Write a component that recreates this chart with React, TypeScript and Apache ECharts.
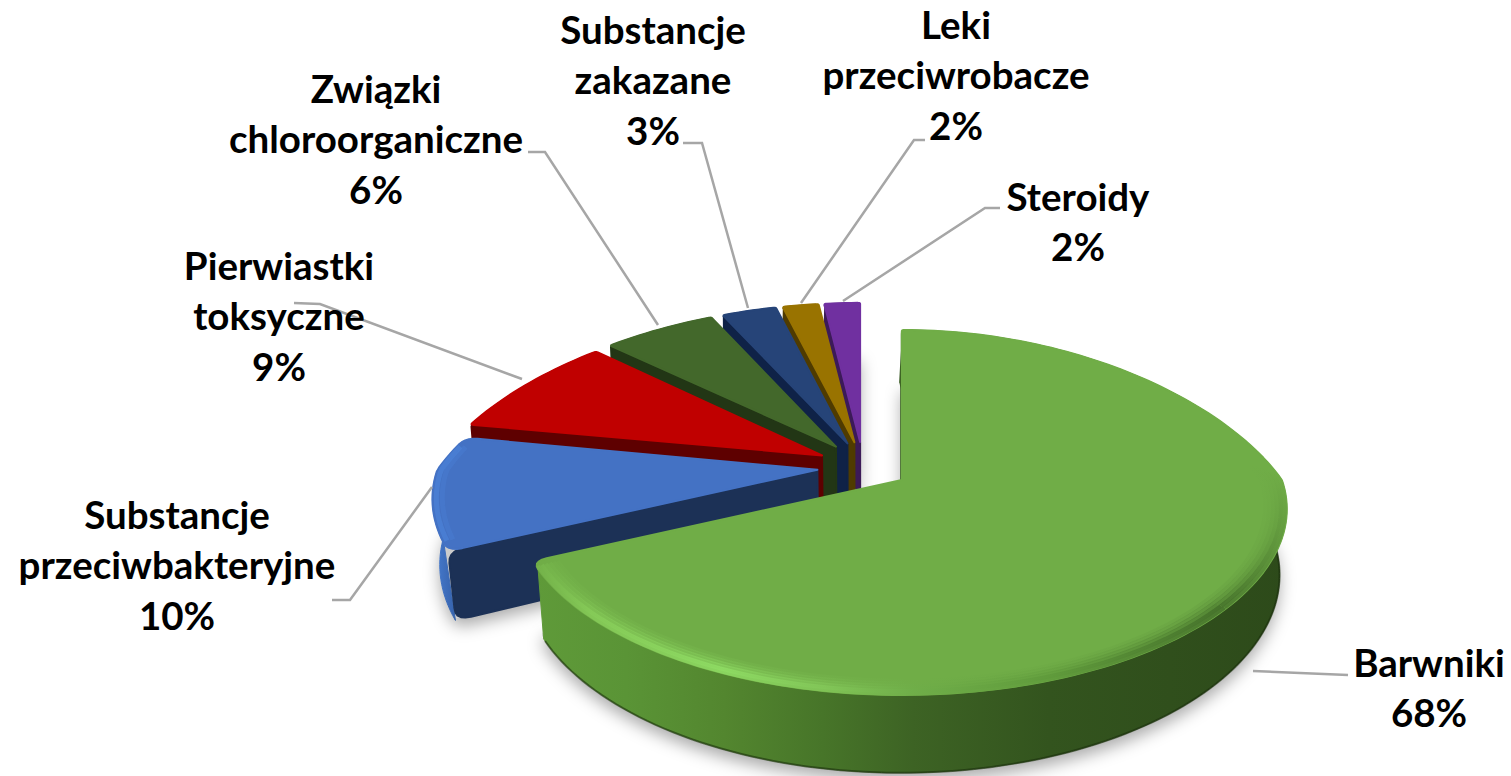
import React, { useEffect, useRef } from "react";
import * as echarts from "echarts";

const categories = ["Barwniki", "Substancje\nprzeciwbakteryjne", "Pierwiastki\ntoksyczne", "Związki\nchloroorganiczne", "Substancje\nzakazane", "Leki\nprzeciwrobacze", "Steroidy"];
const values = [68, 10, 9, 6, 3, 2, 2];
const topColors = ["#70ad47", "#4472c4", "#c00000", "#43682b", "#264478", "#997300", "#7030a0"];
const wallColors = ["#35561f", "#1c3156", "#5e0000", "#223615", "#0f2247", "#4f3b00", "#3c1a58"];

const W = 1511, H = 776;
const CX = 863, CY = 466.7, EX = 46, EY = 24.8;
const A = 380, B = 176.7, KY = 0.178, KXB = 0.33, KXF = 0.16, DEPTH = 64, SHRINK = 0.983, BACK = 0.52;
const rad = (d: number) => (d * Math.PI) / 180;

type Slice = { start: number; end: number; ax: number; ay: number; e: number; d: number; rr: number; ds: number; rs: number };
function sliceInfo(i: number): Slice {
  const total = values.reduce((s, v) => s + v, 0);
  let before = 0;
  for (let k = 0; k < i; k++) before += values[k];
  const start = (before / total) * 360;
  const end = ((before + values[i]) / total) * 360;
  const mid = (start + end) / 2;
  const c = Math.cos(rad(mid));
  const big = i < 2;
  return {
    start, end, ax: CX + EX * Math.sin(rad(mid)), ay: CY - EY * c, e: Math.max(0, c) * BACK,
    d: big ? 2.4 : 0.5, rr: big ? 0.965 : 0.99,
    ds: i === 1 ? 2.4 : 0.5, rs: i === 1 ? 0.965 : 0.99,
  };
}
function proj(s: Slice, r: number, deg: number, bottom = false): number[] {
  const X = r * Math.sin(rad(deg)), Y = r * Math.cos(rad(deg));
  const sx = 1 / (1 + (Y > 0 ? KXB : KXF) * Y);
  const sy = 1 / (1 + KY * (Y + (r > 0 ? s.e * r : 0)));
  let x = s.ax + A * X * sx;
  let y = s.ay - B * Y * sy;
  if (bottom) { x = CX + (x - CX) * SHRINK; y += DEPTH * sy; }
  return [x, y];
}
function arc(s: Slice, r: number, a0: number, a1: number, bottom = false) {
  const pts: number[][] = [];
  const n = Math.max(2, Math.ceil(Math.abs(a1 - a0) / 1.5));
  for (let j = 0; j <= n; j++) pts.push(proj(s, r, a0 + ((a1 - a0) * j) / n, bottom));
  return pts;
}
function quad(p0: number[], c: number[], p1: number[]) {
  const out: number[][] = [];
  for (let t = 0; t <= 1.001; t += 0.2) {
    const u = 1 - t;
    out.push([u * u * p0[0] + 2 * u * t * c[0] + t * t * p1[0], u * u * p0[1] + 2 * u * t * c[1] + t * t * p1[1]]);
  }
  return out;
}
function outline(s: Slice, bottom = false) {
  return [
    ...quad(proj(s, s.rs, s.start, bottom), proj(s, 1, s.start, bottom), proj(s, 1, s.start + s.ds, bottom)),
    ...arc(s, 1, s.start + s.ds, s.end - s.d, bottom),
    ...quad(proj(s, 1, s.end - s.d, bottom), proj(s, 1, s.end, bottom), proj(s, s.rr, s.end, bottom)),
  ];
}
function radialWall(s: Slice, deg: number) {
  const t = proj(s, 1, deg), b = proj(s, 1, deg, true);
  const k = s.ds > 1 ? 12 : 2;
  return [
    [s.ax, s.ay],
    ...quad(proj(s, 0.96, deg), t, [t[0] + 1, t[1] + k]),
    ...quad([b[0] - 1, b[1] - k], b, proj(s, 0.96, deg, true)),
    proj(s, 0, deg, true),
  ];
}
const lg = (x0: number, y0: number, x1: number, y1: number, stops: [number, string][]) =>
  new echarts.graphic.LinearGradient(x0, y0, x1, y1, stops.map(([offset, color]) => ({ offset, color })), true);

function renderShadow(_: any, api: any) {
  const s = sliceInfo(api.value(1));
  return {
    type: "polygon",
    shape: { points: [proj(s, 0, 0, true), ...outline(s, true)] },
    style: { fill: "#cccccc", shadowBlur: 16, shadowColor: "rgba(0,0,0,0.33)", shadowOffsetY: 8 },
  };
}

const rimBands: [number, number][] = [[0.995, 0.85], [0.985, 0.95], [0.975, 0.6], [0.965, 0.38], [0.955, 0.2], [0.945, 0.1]];

function renderSlice(_: any, api: any) {
  const i = api.value(1);
  const s = sliceInfo(i);
  const { ax, ay, start, end, d } = s;
  const outerFill: any =
    i === 0
      ? lg(536, 0, 1290, 0, [[0, "#5f9a39"], [0.12, "#5a9436"], [0.25, "#53862f"], [0.38, "#477529"], [0.5, "#3d6324"], [0.68, "#33541e"], [1, "#2d4a1a"]])
      : i === 1
      ? lg(430, 0, 470, 0, [[0, "#4a80d6"], [0.5, "#3a68b4"], [1, "#2c5592"]])
      : wallColors[i];
  const outer = [...arc(s, 1, start + s.ds, end - d), ...arc(s, 1, start, end - d, true).reverse()];
  const face = [[ax, ay], ...outline(s)];
  const children: any[] = [
    { type: "polygon", shape: { points: outer }, style: { fill: outerFill, stroke: outerFill, lineWidth: 1, lineJoin: "round" } },
    { type: "polygon", shape: { points: radialWall(s, start) }, style: { fill: wallColors[i], stroke: wallColors[i], lineWidth: 2, lineJoin: "round" } },
  ];
  if (i === 0) {
    children.push({ type: "polyline", shape: { points: arc(s, 1, 80, end - 3, true) }, style: { stroke: "rgba(25,45,12,0.6)", fill: null, lineWidth: 2 } });
  }
  children.push({ type: "polygon", shape: { points: face }, style: { fill: topColors[i], stroke: topColors[i], lineWidth: 2, lineJoin: "round" } });
  if (i === 0) {
    const rimLeft = lg(536, 0, 1223, 0, [[0, "#74b34a"], [0.08, "#86cb58"], [0.27, "#8edb63"], [0.42, "#82c658"], [0.55, "#6fae49"], [0.75, "#5f9a3b"], [1, "#44702a"]]);
    const rimRight = lg(1290, 480, 1223, 625, [[0, "rgba(68,112,42,0)"], [1, "rgba(68,112,42,1)"]]);
    rimBands.forEach(([r, opacity]) => {
      children.push(
        { type: "polyline", shape: { points: arc(s, r, 130, end - 1.5) }, style: { stroke: rimLeft, fill: null, lineWidth: 4, opacity } },
        { type: "polyline", shape: { points: arc(s, r, 80, 130) }, style: { stroke: rimRight, fill: null, lineWidth: 4, opacity } }
      );
    });
  }
  if (i === 1) {
    [[0.99, 0.6], [0.975, 0.3]].forEach(([r, opacity]) => {
      children.push({ type: "polyline", shape: { points: arc(s, r, start + 3, end - 3) }, style: { stroke: "#4d86dc", fill: null, lineWidth: 5, opacity } });
    });
  }
  return { type: "group", children };
}

const leaderLines: number[][][] = [
  [[1253, 671], [1348, 675]],
  [[432, 487], [350, 600], [332, 600]],
  [[522, 379], [320, 304], [294, 303]],
  [[658, 325], [545, 152], [528, 152]],
  [[748, 308], [702, 143], [683, 143]],
  [[801, 303], [914, 140], [925, 140]],
  [[843, 301], [985, 208], [1000, 208]],
];
const labelAnchors = [[1429, 687], [177, 564], [279, 315], [376, 138], [653, 79], [956, 74], [1078, 221]];

export default function App() {
  const ref = useRef<HTMLDivElement>(null);
  useEffect(() => {
    document.body.style.margin = "0";
    const chart = echarts.init(ref.current!, null, { renderer: "svg" });
    const drawOrder = values.map((v, i) => [v, i]).reverse();
    chart.setOption({
      animation: false,
      backgroundColor: "#ffffff",
      series: [
        { type: "custom", coordinateSystem: "none", z: 1, silent: true, renderItem: renderShadow, data: drawOrder },
        { type: "custom", coordinateSystem: "none", z: 2, silent: true, renderItem: renderSlice, data: drawOrder },
      ],
      graphic: {
        elements: [
          ...leaderLines.map((points) => ({
            type: "polyline", z: 10, silent: true, shape: { points },
            style: { stroke: "#a6a6a6", lineWidth: 2.5, fill: null },
          })),
          ...categories.map((name, i) => ({
            type: "text", z: 11, silent: true, x: labelAnchors[i][0], y: labelAnchors[i][1],
            style: {
              text: `${name}\n${values[i]}%`, font: "bold 38.5px Lato", fontFamily: "Lato", fontWeight: "bold", fontSize: 38.5,
              lineHeight: 50.5, fill: "#000000", align: "center", verticalAlign: "middle",
            },
          })),
        ],
      },
    });
    return () => chart.dispose();
  }, []);
  return <div ref={ref} style={{ position: "absolute", left: 0, top: 0, width: W, height: H }} />;
}
